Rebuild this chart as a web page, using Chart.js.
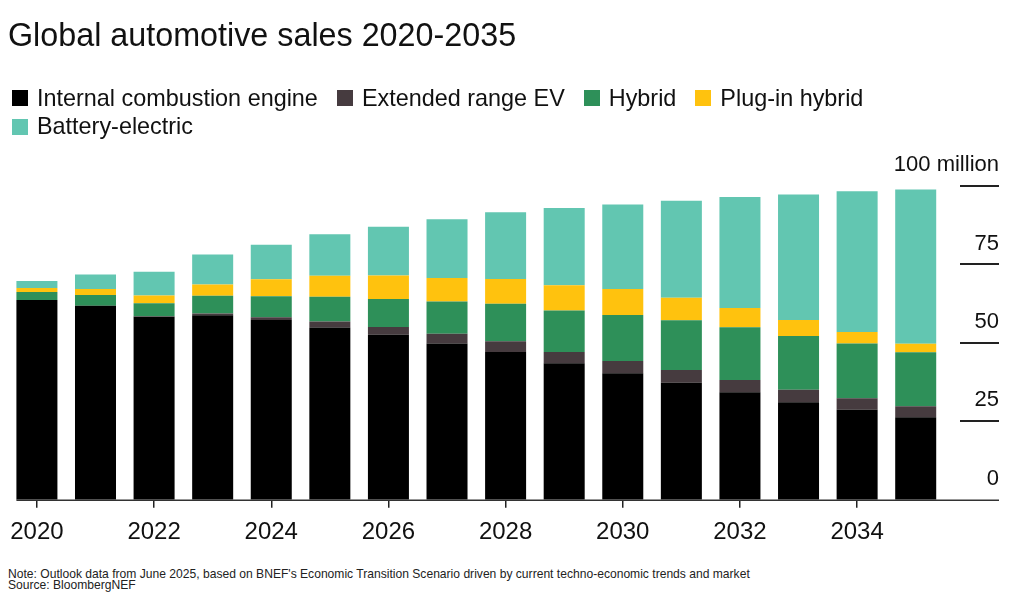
<!DOCTYPE html>
<html>
<head>
<meta charset="utf-8">
<script src="https://cdn.jsdelivr.net/npm/chart.js@4.4.1/dist/chart.umd.min.js"></script>
<style>
    body { margin: 0; background: #fff; font-family: "Liberation Sans", Arial, sans-serif; color: #111; }
    #pagina { position: relative; width: 1024px; height: 599px; overflow: hidden; }
    #titulo { position: absolute; left: 8px; top: 19px; font-size: 32.3px; line-height: 32px; white-space: nowrap; }
    #leyenda { position: absolute; left: 12px; top: 84px; width: 900px; display: flex; flex-wrap: wrap; }
    .item { display: flex; align-items: center; height: 28.5px; font-size: 23.4px; margin-right: 19px; white-space: nowrap; }
    .caja { width: 16px; height: 16px; margin-right: 9px; }
    #contenedor { position: absolute; left: 0; top: 0; width: 1024px; height: 567px; }
    #nota { position: absolute; left: 8px; top: 568.6px; font-size: 12.1px; line-height: 11px; color: #222; white-space: nowrap; }
</style>
</head>
<body>
<div id="pagina">
    <div id="contenedor"><canvas id="grafica"></canvas></div>
    <div id="titulo">Global automotive sales 2020-2035</div>
    <div id="leyenda"></div>
    <div id="nota">Note: Outlook data from June 2025, based on BNEF's Economic Transition Scenario driven by current techno-economic trends and market<br>Source: BloombergNEF</div>
</div>
<script>
const anios = ["2020", "2021", "2022", "2023", "2024", "2025", "2026", "2027",
               "2028", "2029", "2030", "2031", "2032", "2033", "2034", "2035"];

// millones de vehiculos
const combustion = [63.7, 61.8, 58.3, 58.8, 57.3, 54.9, 52.6, 49.8, 47.1, 43.5, 40.3, 37.3, 34.3, 31.1, 28.7, 26.3];
const rangoExtendido = [0, 0, 0.2, 0.6, 0.9, 1.9, 2.5, 3.1, 3.4, 3.6, 3.9, 4.1, 3.9, 4.0, 3.7, 3.5];
const hibrido = [2.5, 3.5, 4.1, 5.6, 6.7, 7.9, 8.9, 10.3, 12.0, 13.2, 14.7, 15.8, 16.8, 17.1, 17.4, 17.2];
const enchufable = [1.3, 1.9, 2.5, 3.6, 5.4, 6.7, 7.5, 7.5, 7.9, 8.1, 8.3, 7.2, 6.1, 5.1, 3.7, 2.7];
const electrico = [2.2, 4.6, 7.6, 9.6, 11.0, 13.2, 15.5, 18.7, 21.2, 24.6, 26.9, 30.9, 35.4, 40.0, 44.8, 49.2];

const nombres = ["Internal combustion engine", "Extended range EV", "Hybrid", "Plug-in hybrid", "Battery-electric"];
const colores = ["#000000", "#463b3f", "#2e9059", "#ffc20e", "#62c6b1"];
const series = [combustion, rangoExtendido, hibrido, enchufable, electrico];

const ticksY = [0, 25, 50, 75, 100];

const fuente = "'Liberation Sans', Arial, sans-serif";

// leyenda en html
const leyenda = document.getElementById("leyenda");
nombres.forEach((n, i) => {
    const item = document.createElement("div");
    item.className = "item";
    item.innerHTML = `<span class="caja" style="background:${colores[i]}"></span>${n}`;
    leyenda.appendChild(item);
});

// linea base y marcas cortas del eje derecho
const lineasEje = {
    id: "lineasEje",
    afterDraw(chart) {
        const { ctx, chartArea, scales } = chart;
        const y = scales.y;
        const barra = chart.getDatasetMeta(0).data[0];
        const xIni = barra.x - barra.width / 2;
        const xFin = y.right;

        ctx.save();
        ctx.strokeStyle = "#333";
        ctx.lineWidth = 1.5;
        ctx.beginPath();
        ctx.moveTo(xIni, chartArea.bottom + 0.5);
        ctx.lineTo(xFin, chartArea.bottom + 0.5);
        ctx.stroke();

        ctx.strokeStyle = "#222";
        ctx.lineWidth = 2;
        ctx.beginPath();
        y.ticks.forEach(t => {
            if (t.value === 0) return;
            const py = Math.round(y.getPixelForValue(t.value));
            ctx.moveTo(chartArea.right + 15, py);
            ctx.lineTo(xFin, py);
        });
        ctx.stroke();
        ctx.restore();
    }
};

const ctx = document.getElementById("grafica").getContext("2d");

new Chart(ctx, {
    type: "bar",
    data: {
        labels: anios,
        datasets: series.map((s, i) => ({
            label: nombres[i],
            data: s,
            backgroundColor: colores[i],
            borderWidth: 0,
            barPercentage: 0.7,
            categoryPercentage: 1.0
        }))
    },
    options: {
        responsive: true,
        maintainAspectRatio: false,
        animation: false,
        layout: {
            padding: { left: 7, right: 25, top: 186, bottom: 20 }
        },
        plugins: {
            legend: { display: false },
            tooltip: { enabled: false }
        },
        scales: {
            x: {
                stacked: true,
                border: { display: false },
                grid: {
                    offset: false,
                    drawOnChartArea: false,
                    drawTicks: true,
                    tickLength: 8,
                    lineWidth: 1.5,
                    color: c => (c.index % 2 === 0 ? "#222" : "rgba(0,0,0,0)")
                },
                ticks: {
                    autoSkip: false,
                    maxRotation: 0,
                    padding: 10,
                    color: "#111",
                    font: { family: fuente, size: 24 },
                    callback: (v, i) => (i % 2 === 0 ? anios[i] : "")
                },
                afterFit: s => { s.height = 47; }
            },
            y: {
                stacked: true,
                position: "right",
                min: 0,
                max: 100,
                border: { display: false },
                grid: { display: false },
                afterBuildTicks: s => { s.ticks = ticksY.map(v => ({ value: v })); },
                ticks: {
                    mirror: true,
                    padding: 54,
                    crossAlign: "near",
                    labelOffset: -21,
                    color: "#111",
                    font: { family: fuente, size: 22 },
                    callback: v => (v === 100 ? "100 million" : v)
                },
                afterFit: s => { s.width = 54; }
            }
        }
    },
    plugins: [lineasEje]
});
</script>
</body>
</html>
